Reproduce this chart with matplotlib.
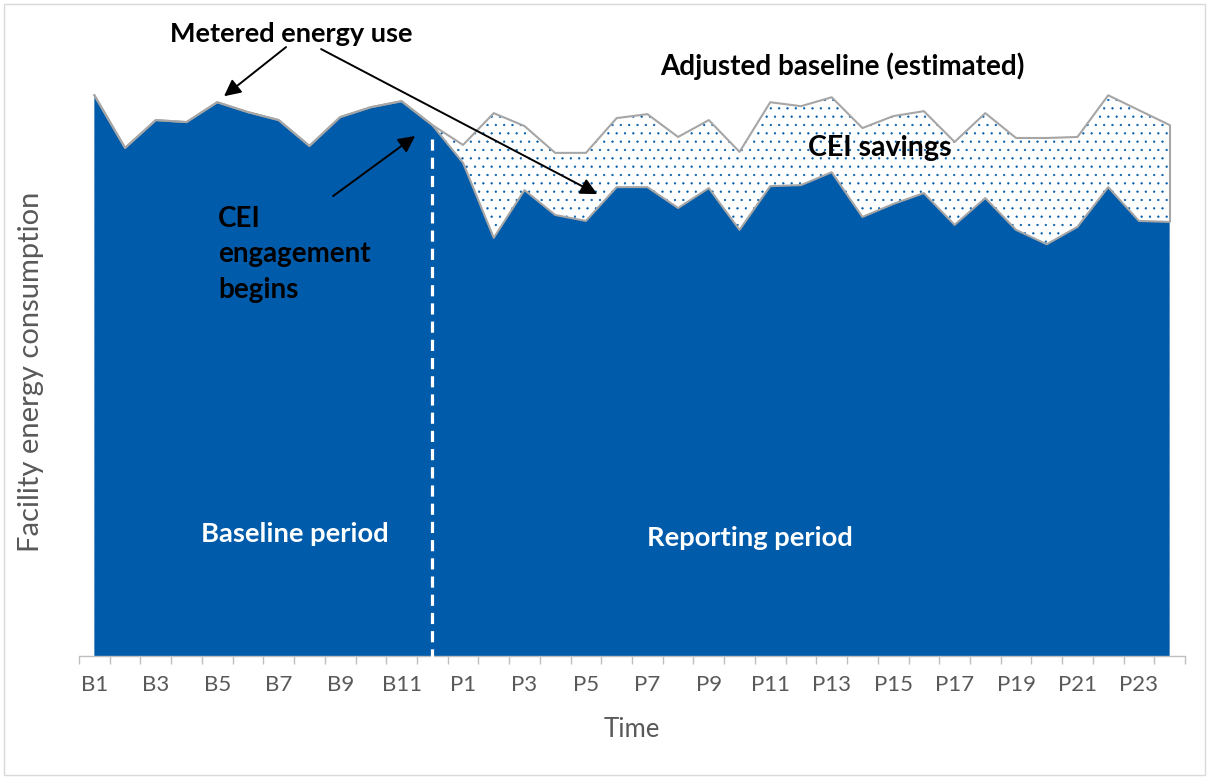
import numpy as np
import matplotlib.pyplot as plt
from matplotlib.patches import Rectangle

plt.rcParams['font.family'] = ['Lato', 'DejaVu Sans']
plt.rcParams['hatch.linewidth'] = 0.4

# 12 baseline months, 24 reporting months
periods = [f'B{i}' for i in range(1, 13)] + [f'P{i}' for i in range(1, 25)]

# metered energy use (blue area)
metered = [112.9, 102.3, 107.9, 107.5, 111.5, 109.5, 107.9, 102.7, 108.5, 110.5, 111.7, 106.9,
           99.3, 84.2, 93.8, 88.8, 87.6, 94.4, 94.4, 90.2, 94.2, 85.8, 94.6, 94.8,
           97.4, 88.4, 91.0, 93.2, 86.8, 92.2, 85.8, 82.9, 86.4, 94.4, 87.6, 87.4]

# adjusted baseline (estimated) - same as metered during the baseline period
adjusted = [112.9, 102.3, 107.9, 107.5, 111.5, 109.5, 107.9, 102.7, 108.5, 110.5, 111.7, 106.9,
            102.9, 109.3, 106.7, 101.3, 101.3, 108.3, 109.1, 104.5, 107.9, 101.5, 111.5, 110.7,
            112.5, 106.3, 108.7, 109.7, 103.5, 109.3, 104.3, 104.3, 104.5, 112.9, 109.9, 106.9]

engagement_idx = 11  # CEI engagement begins at B12

blue = '#005BAA'
gray = '#A6A6A6'
txt_gray = '#595959'

x = np.arange(len(periods))

fig = plt.figure(figsize=(12.09, 7.79), dpi=100)
ax = fig.add_axes([79 / 1209, 1 - 656 / 779, 1106 / 1209, 596 / 779])

# savings region (dotted) then metered area on top
ax.fill_between(x, 0, adjusted, facecolor='white', edgecolor=blue, hatch='..', linewidth=0)
ax.fill_between(x, 0, metered, facecolor=blue, edgecolor='none', linewidth=0)
ax.plot(x, adjusted, color=gray, lw=1.5)
ax.plot(x, metered, color=gray, lw=1.5)
ax.vlines(x[-1], metered[-1], adjusted[-1], color=gray, lw=1.5)

ax.vlines(engagement_idx, -0.8, 104.5, color='white', lw=2.3, linestyles=(0, (3.5, 2.2)),
          clip_on=False, zorder=4)

ax.set_xlim(-0.5, len(periods) - 0.5)
ax.set_ylim(0, 120)

ax.set_xticks(x[::2])
ax.set_xticklabels(periods[::2], fontsize=16, color=txt_gray)
ax.set_xticks(np.arange(-0.5, len(periods)), minor=True)
ax.tick_params(axis='x', which='major', length=0, pad=14)
ax.tick_params(axis='x', which='minor', length=6, color='#BFBFBF', width=1)
ax.set_yticks([])
for s in ['left', 'top', 'right']:
    ax.spines[s].set_visible(False)
ax.spines['bottom'].set_color('#BFBFBF')
ax.spines['bottom'].set_linewidth(1)

ax.set_xlabel('Time', fontsize=18.5, color=txt_gray)
ax.xaxis.set_label_coords(0.5, -0.103)
ax.set_ylabel('Facility energy consumption', fontsize=21, color=txt_gray)
ax.yaxis.set_label_coords(-0.032, 0.4765)

arrow = dict(arrowstyle='-|>', color='black', lw=1.4, mutation_scale=25, shrinkA=0, shrinkB=0)

ax.text(6.40, 125.2, 'Metered energy use', fontsize=19.5, fontweight='bold', ha='center', va='center')
ax.annotate('', xy=(4.22, 112.7), xytext=(6.24, 122.6), arrowprops=arrow, annotation_clip=False)
ax.annotate('', xy=(16.37, 93.0), xytext=(7.38, 122.2), arrowprops=arrow, annotation_clip=False)

ax.text(24.34, 118.8, 'Adjusted baseline (estimated)', fontsize=20, fontweight='bold',
        ha='center', va='center', clip_on=False)
ax.text(25.58, 102.3, 'CEI savings', fontsize=20.5, fontweight='bold', ha='center', va='center')

ax.text(4.03, 80.9, 'CEI\nengagement\nbegins', fontsize=20, fontweight='bold',
        ha='left', va='center', linespacing=1.45)
ax.annotate('', xy=(10.44, 104.7), xytext=(7.77, 92.6), arrowprops=arrow)

ax.text(6.53, 24.6, 'Baseline period', fontsize=19.7, fontweight='bold', color='white',
        ha='center', va='center')
ax.text(21.35, 23.8, 'Reporting period', fontsize=19.7, fontweight='bold', color='white',
        ha='center', va='center')

fig.patches.append(Rectangle((4 / 1209, 4 / 779), 1 - 8 / 1209, 1 - 8 / 779, transform=fig.transFigure,
                             fill=False, edgecolor='#D9D9D9', lw=1))

fig.savefig('out.png', dpi=100)
